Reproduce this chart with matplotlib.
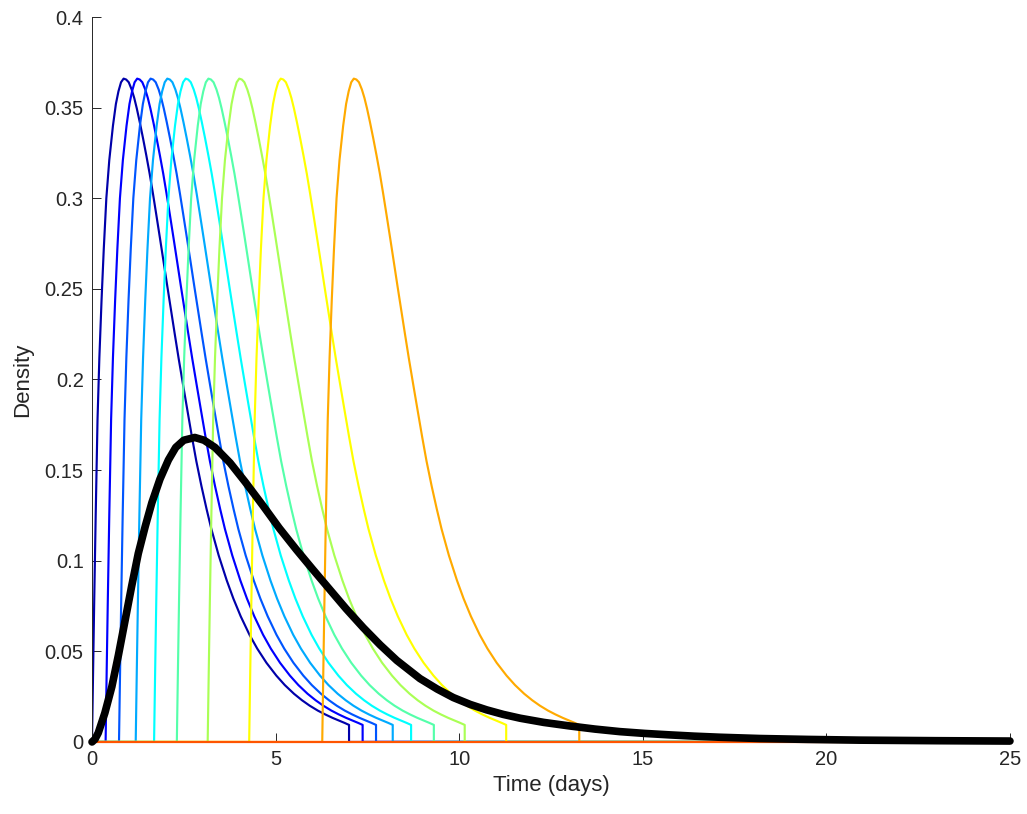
import numpy as np
import matplotlib
matplotlib.use("Agg")
import matplotlib.pyplot as plt

# Form der Einzelkurven (Abstand zum Beginn in Tagen, Dichte)
shape_offset = [0.00, 0.03, 0.06, 0.10, 0.15, 0.20, 0.26, 0.32, 0.39, 0.47, 0.57, 0.65,
                0.72, 0.79, 0.86, 0.93, 1.00, 1.08, 1.15, 1.22, 1.30, 1.39, 1.48, 1.57,
                1.66, 1.75, 1.85, 1.95, 2.05, 2.15, 2.25, 2.36, 2.48, 2.60, 2.72, 2.84,
                2.98, 3.12, 3.25, 3.45, 3.67, 3.85, 4.05, 4.29, 4.50, 4.75, 5.02, 5.25,
                5.50, 5.72, 5.93, 6.15, 6.35, 6.55, 6.75, 6.88, 7.00, 7.00]
shape_density = [0.000, 0.040, 0.078, 0.125, 0.178, 0.212, 0.244, 0.272, 0.300, 0.321, 0.340, 0.352,
                 0.359, 0.364, 0.366, 0.3655, 0.364, 0.360, 0.3553, 0.3495, 0.342, 0.333, 0.3235, 0.3135,
                 0.3025, 0.291, 0.278, 0.2648, 0.2515, 0.2385, 0.2255, 0.2115, 0.197, 0.1827, 0.1685, 0.155,
                 0.1412, 0.1285, 0.1175, 0.1029, 0.0891, 0.0791, 0.0693, 0.0591, 0.0515, 0.0437, 0.0366, 0.0314,
                 0.0266, 0.0230, 0.0200, 0.0173, 0.0152, 0.0133, 0.0116, 0.0105, 0.0094, 0.000]

# Beginn jeder Kurve (Tage)
onsets = [0.0, 0.37, 0.735, 1.19, 1.69, 2.31, 3.15, 4.28, 6.27]

# Mittelwert (dicke schwarze Kurve)
mean_t = [0, 0.08, 0.17, 0.35, 0.54, 0.72, 0.90, 1.08, 1.26, 1.45, 1.63, 1.85, 2.08, 2.28,
          2.50, 2.80, 3.05, 3.35, 3.76, 4.17, 4.67, 5.10, 5.57, 6.00, 6.48, 6.92, 7.39, 7.85,
          8.30, 8.93, 9.40, 9.84, 10.30, 10.75, 11.20, 11.66, 12.30, 13.02, 13.70, 14.38,
          15.06, 15.74, 16.40, 17.10, 18.19, 19.5, 20.9, 23.0, 25.0]
mean_density = [0, 0.0015, 0.005, 0.016, 0.0305, 0.048, 0.067, 0.086, 0.104, 0.119, 0.132, 0.145,
                0.1556, 0.1625, 0.1665, 0.168, 0.1665, 0.1625, 0.154, 0.1435, 0.130, 0.118, 0.106,
                0.0955, 0.084, 0.0735, 0.063, 0.0535, 0.045, 0.035, 0.0292, 0.0245, 0.0207, 0.0177,
                0.0152, 0.0131, 0.0108, 0.0088, 0.0071, 0.0057, 0.0047, 0.0039, 0.0032, 0.0026,
                0.0019, 0.0014, 0.001, 0.0007, 0.0005]

# jet(10)
colors = [(0, 0, 0.6667), (0, 0, 1), (0, 0.3333, 1), (0, 0.6667, 1), (0, 1, 1),
          (0.3333, 1, 0.6667), (0.6667, 1, 0.3333), (1, 1, 0), (1, 0.6667, 0), (1, 0.3333, 0)]

plt.rcParams['font.family'] = ['Liberation Sans', 'DejaVu Sans']
fig = plt.figure(figsize=(10.27, 8.14), dpi=100)
ax = fig.add_axes([0.0896, 0.0885, 0.8938, 0.8906])

for s, c in zip(onsets, colors):
    xs = [0.0] + [s + o for o in shape_offset] + [25.0]
    ys = [0.0] + shape_density + [0.0]
    ax.plot(xs, ys, color=c, lw=1.55)
ax.plot([0, 25], [0, 0], color=colors[9], lw=1.6, zorder=3, clip_on=False)
ax.plot(mean_t, mean_density, color='k', lw=5.5, solid_capstyle='round', zorder=4, clip_on=False)

ax.set_xlim(0, 25)
ax.set_ylim(0, 0.4)
ax.set_xticks([0, 5, 10, 15, 20, 25])
ax.set_yticks([0, 0.05, 0.1, 0.15, 0.2, 0.25, 0.3, 0.35, 0.4])
ax.set_yticklabels(['0', '0.05', '0.1', '0.15', '0.2', '0.25', '0.3', '0.35', '0.4'])
grey = (0.15, 0.15, 0.15)
for sp in ['top', 'right']:
    ax.spines[sp].set_visible(False)
for sp in ['left', 'bottom']:
    ax.spines[sp].set_color(grey)
    ax.spines[sp].set_linewidth(0.7)
ax.tick_params(direction='in', length=6.5, width=0.7, colors=grey, labelsize=14.5, pad=6)
ax.set_xlabel('Time (days)', fontsize=16, color=grey, labelpad=4)
ax.set_ylabel('Density', fontsize=16, color=grey, labelpad=8)

fig.savefig('out.png', dpi=100)
